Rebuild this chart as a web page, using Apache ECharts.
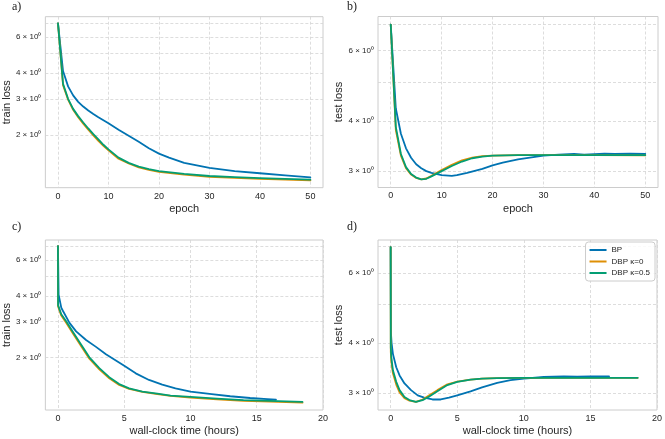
<!DOCTYPE html>
<html>
<head>
<meta charset="utf-8">
<script src="https://cdn.jsdelivr.net/npm/echarts@6/dist/echarts.min.js"></script>
<style>html,body{margin:0;padding:0;background:#fff}#c{width:665px;height:439px}</style>
</head>
<body>
<div id="c"></div>
<script>
// ---- data ----
const seriesNames = ['BP', 'DBP \u03ba=0', 'DBP \u03ba=0.5'];
const colors = ['#0173B2', '#DE8F05', '#029E73'];

// a) train loss vs epoch
const trainEpochBP = [[0,7.0],[1,4.1],[2,3.45],[3,3.12],[4,2.9],[5,2.75],[6,2.63],[7,2.53],[8,2.44],[9,2.36],[10,2.28],[12,2.12],[14,1.98],[16,1.85],[18,1.72],[20,1.62],[22,1.55],[25,1.46],[30,1.38],[35,1.33],[40,1.30],[45,1.27],[50,1.24]];
const trainEpochK0 = [[0,7.0],[1,3.5],[2,2.97],[3,2.65],[4,2.44],[5,2.27],[6,2.12],[7,1.99],[8,1.87],[9,1.77],[10,1.68],[12,1.53],[14,1.45],[16,1.39],[18,1.35],[20,1.32],[25,1.28],[30,1.25],[35,1.235],[40,1.22],[45,1.21],[50,1.20]];
const trainEpochK05 = [[0,7.0],[1,3.55],[2,3.0],[3,2.68],[4,2.47],[5,2.30],[6,2.15],[7,2.02],[8,1.90],[9,1.79],[10,1.70],[12,1.55],[14,1.46],[16,1.40],[18,1.36],[20,1.33],[25,1.29],[30,1.26],[35,1.245],[40,1.23],[45,1.22],[50,1.21]];

// b) test loss vs epoch
const testEpochBP = [[0,6.97],[1,4.3],[2,3.72],[3,3.42],[4,3.24],[5,3.12],[6,3.05],[7,3.0],[8,2.97],[10,2.93],[12,2.92],[13,2.93],[15,2.97],[18,3.04],[20,3.1],[22,3.15],[25,3.21],[28,3.25],[30,3.28],[33,3.30],[36,3.31],[38,3.30],[42,3.315],[44,3.31],[47,3.315],[50,3.31]];
const testEpochK0 = [[0,6.97],[1,3.8],[2,3.28],[3,3.05],[4,2.94],[5,2.885],[6,2.86],[7,2.875],[8,2.92],[10,3.02],[12,3.11],[14,3.19],[16,3.24],[18,3.27],[20,3.28],[25,3.29],[30,3.29],[40,3.29],[50,3.285]];
const testEpochK05 = [[0,6.97],[1,3.87],[2,3.31],[3,3.07],[4,2.95],[5,2.89],[6,2.86],[7,2.87],[8,2.91],[10,3.0],[12,3.09],[14,3.17],[16,3.23],[18,3.26],[20,3.28],[25,3.29],[30,3.29],[40,3.29],[50,3.29]];

// c) train loss vs wall-clock time (hours)
const trainTimeBP = [[0,7.0],[0.05,4.05],[0.25,3.5],[0.37,3.38],[0.87,2.95],[1.37,2.68],[2.12,2.43],[2.87,2.25],[3.62,2.07],[4.37,1.93],[5,1.82],[5.87,1.67],[6.87,1.55],[7.87,1.47],[8.87,1.41],[10,1.36],[11.6,1.32],[13,1.29],[14.5,1.265],[15.8,1.25],[16.45,1.24]];
const trainTimeK0 = [[0,7.0],[0.01,3.55],[0.25,3.2],[0.62,2.95],[1.12,2.62],[1.62,2.34],[2.37,1.97],[3.12,1.745],[3.87,1.58],[4.62,1.465],[5.37,1.40],[6.37,1.355],[7.5,1.32],[8.5,1.295],[10,1.27],[12,1.245],[14,1.225],[16,1.215],[18.45,1.20]];
const trainTimeK05 = [[0,7.0],[0.01,3.6],[0.25,3.25],[0.62,3.0],[1.12,2.67],[1.62,2.38],[2.37,2.0],[3.12,1.77],[3.87,1.60],[4.62,1.48],[5.37,1.41],[6.37,1.36],[7.5,1.33],[8.5,1.30],[10,1.28],[12,1.255],[14,1.235],[16,1.225],[18.45,1.21]];

// d) test loss vs wall-clock time (hours)
const testTimeBP = [[0,6.96],[0.02,4.25],[0.07,4.0],[0.17,3.76],[0.42,3.48],[0.67,3.32],[1.04,3.17],[1.53,3.05],[2.03,2.96],[2.52,2.92],[3.14,2.89],[3.76,2.89],[4.38,2.92],[5,2.96],[6,3.03],[6.86,3.10],[8,3.18],[9,3.23],[10,3.26],[11.5,3.29],[13,3.30],[14,3.295],[15,3.30],[16.4,3.30]];
const testTimeK0 = [[0,6.96],[0.01,3.8],[0.05,3.6],[0.17,3.36],[0.42,3.15],[0.67,3.01],[1.04,2.91],[1.41,2.87],[1.9,2.85],[2.4,2.89],[2.9,2.96],[3.51,3.05],[4.26,3.155],[5,3.205],[6,3.24],[6.86,3.26],[8,3.27],[10,3.275],[15,3.275],[18.55,3.275]];
const testTimeK05 = [[0,6.96],[0.01,3.9],[0.05,3.69],[0.17,3.42],[0.42,3.20],[0.67,3.05],[1.04,2.93],[1.41,2.88],[1.9,2.85],[2.4,2.88],[2.9,2.94],[3.51,3.03],[4.26,3.14],[5,3.20],[6,3.24],[6.86,3.26],[8,3.27],[10,3.275],[15,3.275],[18.55,3.275]];

// ticks
const epochTicks = [0, 10, 20, 30, 40, 50];
const hourTicks = [0, 5, 10, 15, 20];
const trainLabelTicks = [2, 3, 4, 6];
const trainGridTicks = [2, 3, 4, 5, 6, 7];
const testLabelTicks = [3, 4, 6];
const testGridTicks = [3, 4, 5, 6, 7];
const panelLetters = ['a)', 'b)', 'c)', 'd)'];
const xNames = ['epoch', 'epoch', 'wall-clock time (hours)', 'wall-clock time (hours)'];
const yNames = ['train loss', 'test loss', 'train loss', 'test loss'];

// ---- chart ----
const FONT = '"Liberation Sans", Arial, sans-serif';
const TXT = '#262626';
const panels = [
  {grid:{left:42.5, top:16.7, width:280.5, height:171}, xmin:-2.5, xmax:52.5, xt:epochTicks, ymin:1.105, ymax:7.55, yl:trainLabelTicks, yg:trainGridTicks, data:[trainEpochBP, trainEpochK0, trainEpochK05], xGap:16},
  {grid:{left:378, top:16.5, width:280, height:171}, xmin:-2.5, xmax:52.5, xt:epochTicks, ymin:2.73, ymax:7.3, yl:testLabelTicks, yg:testGridTicks, data:[testEpochBP, testEpochK0, testEpochK05], xGap:16},
  {grid:{left:42.5, top:240, width:280.5, height:170}, xmin:-0.95, xmax:20, xt:hourTicks, ymin:1.105, ymax:7.5, yl:trainLabelTicks, yg:trainGridTicks, data:[trainTimeBP, trainTimeK0, trainTimeK05], xGap:15},
  {grid:{left:378, top:240, width:280, height:170}, xmin:-0.95, xmax:20, xt:hourTicks, ymin:2.72, ymax:7.25, yl:testLabelTicks, yg:testGridTicks, data:[testTimeBP, testTimeK0, testTimeK05], xGap:15}
];

const splitStyle = {show:true, lineStyle:{color:'#d4d4d4', width:0.8, type:[3,2]}};
const grids = [], xAxes = [], yAxes = [], series = [], graphics = [];
panels.forEach((p, i) => {
  grids.push(Object.assign({show:true, borderColor:'#cccccc', borderWidth:1, backgroundColor:'#fff'}, p.grid));
  xAxes.push({
    type:'value', gridIndex:i, min:p.xmin, max:p.xmax,
    name:xNames[i], nameLocation:'middle', nameGap:p.xGap,
    nameTextStyle:{fontFamily:FONT, fontSize:11, color:TXT},
    axisLine:{show:false},
    axisTick:{show:false, customValues:p.xt},
    axisLabel:{customValues:p.xt, fontFamily:FONT, fontSize:9, color:TXT, margin:4},
    splitLine:Object.assign({customValues:p.xt}, splitStyle)
  });
  yAxes.push({
    type:'log', logBase:10, gridIndex:i, min:p.ymin, max:p.ymax,
    name:yNames[i], nameLocation:'middle', nameGap:29.5,
    nameTextStyle:{fontFamily:FONT, fontSize:11, color:TXT},
    axisLine:{show:false},
    axisTick:{show:false, customValues:p.yg},
    axisLabel:{customValues:p.yl, fontFamily:FONT, fontSize:8, color:TXT, margin:4,
      formatter: v => Math.round(v) + ' \u00d7 10\u2070'},
    splitLine:Object.assign({customValues:p.yg}, splitStyle),
    minorTick:{show:false}, minorSplitLine:{show:false}
  });
  p.data.forEach((d, k) => {
    series.push({
      type:'line', name:seriesNames[k], xAxisIndex:i, yAxisIndex:i,
      data:d, showSymbol:false, symbol:'none', smooth:false,
      lineStyle:{color:colors[k], width:1.8, join:'round', cap:'round'}, itemStyle:{color:colors[k]},
      z:2+k
    });
  });
  graphics.push({
    type:'text', left: i % 2 === 0 ? 12 : 347, top: i < 2 ? 1 : 221,
    style:{text:panelLetters[i], font:'12px "Liberation Serif", "DejaVu Serif", serif', fill:'#222'}
  });
});

const chart = echarts.init(document.getElementById('c'), null, {renderer:'canvas'});
chart.setOption({
  animation:false,
  backgroundColor:'#ffffff',
  grid:grids, xAxis:xAxes, yAxis:yAxes, series:series,
  graphic:graphics,
  legend:{
    data:seriesNames, orient:'vertical', right:10, top:242,
    icon:'rect', itemWidth:17, itemHeight:2, itemGap:1.5,
    padding:[3,5,3,4], backgroundColor:'rgba(255,255,255,0.85)',
    borderColor:'#cccccc', borderWidth:1, borderRadius:3,
    textStyle:{fontFamily:FONT, fontSize:8, color:TXT, lineHeight:10}
  }
});
</script>
</body>
</html>
